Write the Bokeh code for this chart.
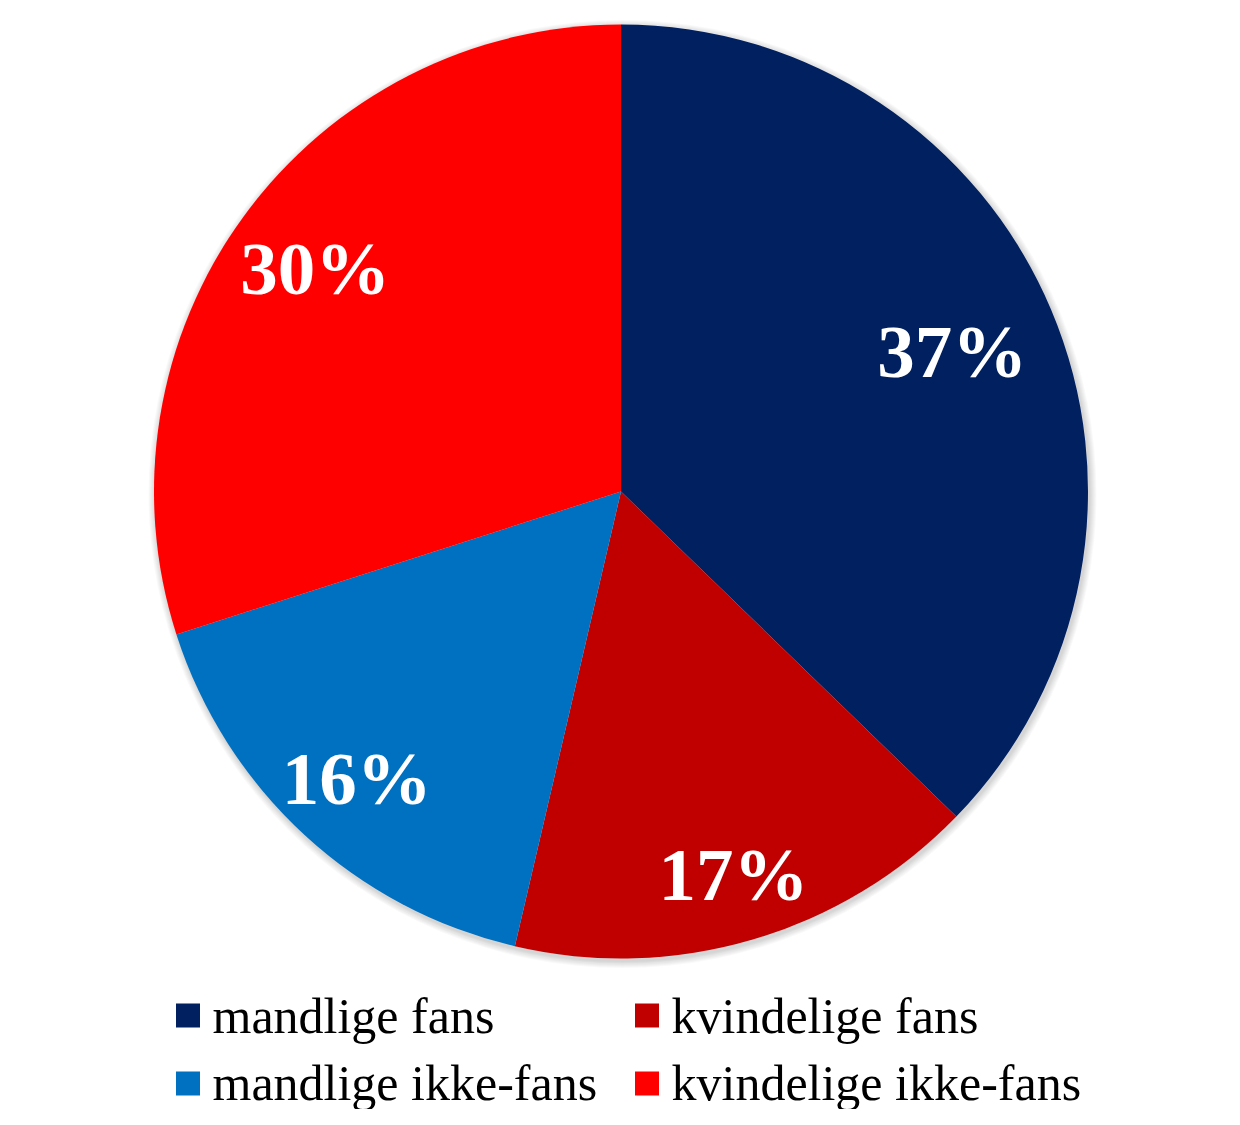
import math
from bokeh.plotting import figure
from bokeh.models import Range1d, ColumnDataSource
from bokeh.core.properties import value
from bokeh.embed import file_html
from bokeh.resources import INLINE

# ---- data ----
categories = ["mandlige fans", "kvindelige fans", "mandlige ikke-fans", "kvindelige ikke-fans"]
shares = [37.25, 16.4, 16.4, 29.95]
pct_labels = ["37%", "17%", "16%", "30%"]
colors = ["#002060", "#C00000", "#0070C0", "#FF0000"]

# ---- layout (screen-like coordinates, y measured from the bottom) ----
W, H = 1224, 1109
def sy(y):
    return H - y

CX, CY, R = 620.5, sy(491), 467
label_r_frac = [0.77, 0.855, 0.835, 0.81]

p = figure(width=W, height=H, output_backend="svg", toolbar_location=None,
           x_range=Range1d(0, W), y_range=Range1d(0, H),
           min_border=0)
p.axis.visible = False
p.grid.visible = False
p.outline_line_color = None
p.background_fill_color = "white"
p.border_fill_color = "white"

# soft shadow
for k in range(1, 8):
    p.circle(x=CX + 1.5, y=CY - 2.5, radius=R + k, fill_color="black",
             fill_alpha=0.022, line_color=None)

total = sum(shares)
starts, ends, lx, ly = [], [], [], []
cum = 0.0
for i, v in enumerate(shares):
    a0 = math.pi / 2 - 2 * math.pi * cum / total
    cum += v
    a1 = math.pi / 2 - 2 * math.pi * cum / total
    starts.append(a1)
    ends.append(a0)
    mid = (a0 + a1) / 2
    lx.append(CX + label_r_frac[i] * R * math.cos(mid))
    ly.append(CY + label_r_frac[i] * R * math.sin(mid))

src = ColumnDataSource(dict(start=starts, end=ends, color=colors, cat=categories,
                            lx=lx, ly=ly, lab=pct_labels))
p.wedge(x=CX, y=CY, radius=R, start_angle="start", end_angle="end",
        direction="anticlock", fill_color="color", line_color=None, source=src)

p.text(x="lx", y="ly", text="lab", source=src, text_color="white",
       text_font=value("Liberation Serif"), text_font_style="bold",
       text_font_size="75px", text_align="center", text_baseline="middle")

# ---- legend ----
leg_mx = [187.5, 646.5, 187.5, 646.5]
leg_my = [sy(1015), sy(1015), sy(1083), sy(1083)]
leg_tx = [212, 671, 212, 671]
leg_ty = [sy(1015), sy(1015), sy(1082), sy(1082)]
lsrc = ColumnDataSource(dict(mx=leg_mx, my=leg_my, tx=leg_tx, ty=leg_ty,
                             color=colors, cat=categories))
p.scatter(x="mx", y="my", marker="square", size=24, fill_color="color",
          line_color=None, source=lsrc)
p.text(x="tx", y="ty", text="cat", source=lsrc, text_color="black",
       text_font=value("Liberation Serif"), text_font_size="50px",
       text_align="left", text_baseline="middle")

open("out.html", "w").write(file_html(p, INLINE))
